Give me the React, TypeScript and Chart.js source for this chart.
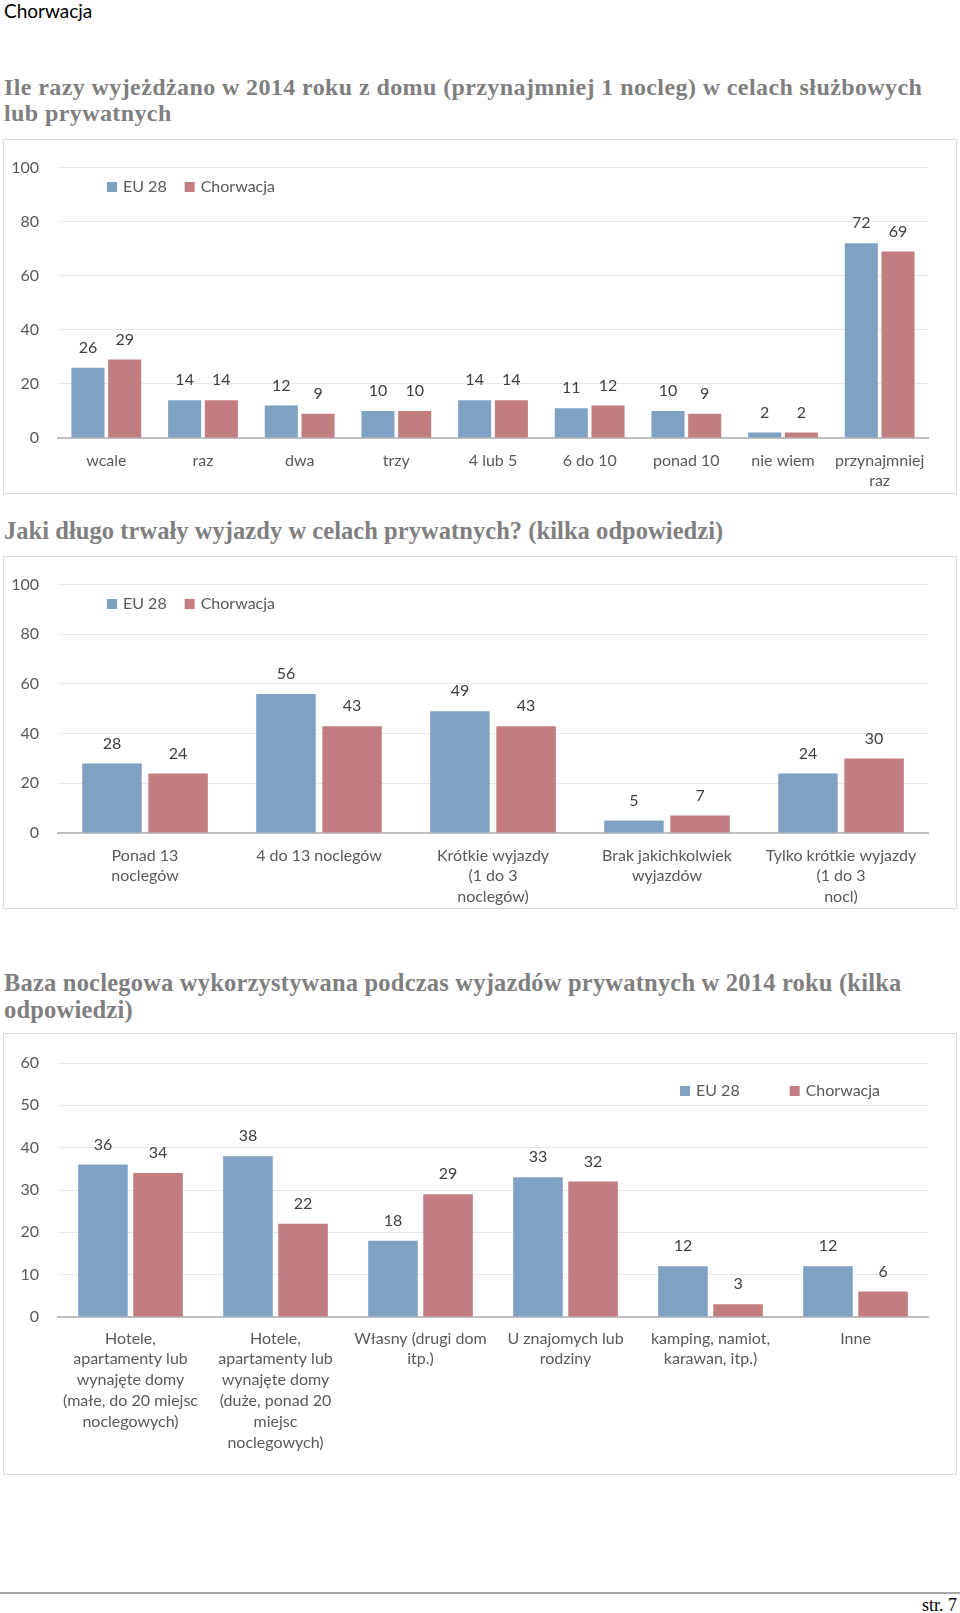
import React, { useEffect, useRef } from 'react';
import { Chart, registerables } from 'chart.js';

Chart.register(...registerables);

// ---------- DATA ----------
const seriesNames = ['EU 28', 'Chorwacja'];

const tripsCategories: (string | string[])[] = [
  'wcale', 'raz', 'dwa', 'trzy', '4 lub 5', '6 do 10', 'ponad 10', 'nie wiem', ['przynajmniej', 'raz'],
];
const tripsEU = [26, 14, 12, 10, 14, 11, 10, 2, 72];
const tripsHR = [29, 14, 9, 10, 14, 12, 9, 2, 69];
const tripsTicks = [0, 20, 40, 60, 80, 100];

const durationCategories: (string | string[])[] = [
  ['Ponad 13', 'noclegów'],
  '4 do 13 noclegów',
  ['Krótkie wyjazdy', '(1 do 3', 'noclegów)'],
  ['Brak jakichkolwiek', 'wyjazdów'],
  ['Tylko krótkie wyjazdy', '(1 do 3', 'nocl)'],
];
const durationEU = [28, 56, 49, 5, 24];
const durationHR = [24, 43, 43, 7, 30];
const durationTicks = [0, 20, 40, 60, 80, 100];

const lodgingCategories: (string | string[])[] = [
  ['Hotele,', 'apartamenty lub', 'wynajęte domy', '(małe, do 20 miejsc', 'noclegowych)'],
  ['Hotele,', 'apartamenty lub', 'wynajęte domy', '(duże, ponad 20', 'miejsc', 'noclegowych)'],
  ['Własny (drugi dom', 'itp.)'],
  ['U znajomych lub', 'rodziny'],
  ['kamping, namiot,', 'karawan, itp.)'],
  'Inne',
];
const lodgingEU = [36, 38, 18, 33, 12, 12];
const lodgingHR = [34, 22, 29, 32, 3, 6];
const lodgingTicks = [0, 10, 20, 30, 40, 50, 60];

const pageHeader = 'Chorwacja';
const title1Lines = [
  'Ile razy wyjeżdżano w 2014 roku z domu (przynajmniej 1 nocleg) w celach służbowych',
  'lub prywatnych',
];
const title2Lines = ['Jaki długo trwały wyjazdy w celach prywatnych? (kilka odpowiedzi)'];
const title3Lines = [
  'Baza noclegowa wykorzystywana podczas wyjazdów prywatnych w 2014 roku (kilka',
  'odpowiedzi)',
];
const pageFooter = 'str. 7';

// ---------- STYLE ----------
const BLUE = '#7FA1C3';
const RED = '#C27D81';
const FONT = 'Lato';

const valueLabels = {
  id: 'valueLabels',
  afterDatasetsDraw(chart: any, _args: any, opts: any) {
    const ctx = chart.ctx;
    ctx.save();
    ctx.font = `${opts.size}px ${FONT}`;
    ctx.fillStyle = opts.color;
    ctx.textAlign = 'center';
    ctx.textBaseline = 'middle';
    chart.data.datasets.forEach((ds: any, i: number) => {
      const meta = chart.getDatasetMeta(i);
      meta.data.forEach((bar: any, j: number) => {
        ctx.fillText(String(ds.data[j]), bar.x, bar.y - opts.offset);
      });
    });
    ctx.restore();
  },
};

const insideLegend = {
  id: 'insideLegend',
  afterDraw(chart: any, _args: any, opts: any) {
    const ctx = chart.ctx;
    ctx.save();
    ctx.font = `${opts.size}px ${FONT}`;
    ctx.textBaseline = 'middle';
    ctx.textAlign = 'left';
    let x = opts.x;
    chart.data.datasets.forEach((ds: any) => {
      ctx.fillStyle = ds.backgroundColor;
      ctx.fillRect(x, opts.y - opts.box / 2, opts.box, opts.box);
      x += opts.box + opts.textGap;
      ctx.fillStyle = opts.color;
      ctx.fillText(ds.label, x, opts.y);
      x += ctx.measureText(ds.label).width + opts.itemGap;
    });
    ctx.restore();
  },
};

type BarProps = {
  labels: (string | string[])[];
  eu: number[];
  hr: number[];
  ticks: number[];
  left: number;
  top: number;
  width: number;
  height: number;
  padTop: number;
  padRight: number;
  yWidth: number;
  xHeight: number;
  xPad: number;
  legendX: number;
  legendY: number;
  legendGap: number;
};

function BarChart(p: BarProps) {
  const ref = useRef<HTMLCanvasElement>(null);
  useEffect(() => {
    if (!ref.current) return;
    const tickMax = p.ticks[p.ticks.length - 1];
    const step = p.ticks[1] - p.ticks[0];
    const chart = new Chart(ref.current, {
      type: 'bar',
      data: {
        labels: p.labels,
        datasets: [
          { label: seriesNames[0], data: p.eu, backgroundColor: BLUE, categoryPercentage: 0.76, barPercentage: 0.9 },
          { label: seriesNames[1], data: p.hr, backgroundColor: RED, categoryPercentage: 0.76, barPercentage: 0.9 },
        ],
      },
      options: {
        responsive: false,
        animation: false,
        layout: { padding: { top: p.padTop, right: p.padRight, left: 0, bottom: 0 } },
        plugins: {
          legend: { display: false },
          tooltip: { enabled: false },
          valueLabels: { size: 16, color: '#404040', offset: 20 },
          insideLegend: { size: 16, color: '#595959', x: p.legendX, y: p.legendY, box: 10, textGap: 6, itemGap: p.legendGap },
        } as any,
        scales: {
          x: {
            grid: { display: false, drawTicks: false },
            border: { display: true, color: '#BFBFBF', width: 2 },
            ticks: { color: '#595959', font: { family: FONT, size: 16, lineHeight: 1.3 }, padding: p.xPad, maxRotation: 0, autoSkip: false },
            afterFit: (s: any) => { s.height = p.xHeight; },
          },
          y: {
            min: 0,
            max: tickMax,
            ticks: { stepSize: step, color: '#595959', font: { family: FONT, size: 16 }, padding: 19 },
            grid: { color: '#E8E8E8', lineWidth: 1, drawTicks: false },
            border: { display: false },
            afterFit: (s: any) => { s.width = p.yWidth; },
          },
        },
      },
      plugins: [valueLabels, insideLegend],
    });
    return () => chart.destroy();
  }, []);
  return (
    <>
      <canvas
        ref={ref}
        width={p.width}
        height={p.height}
        style={{ position: 'absolute', left: p.left, top: p.top, width: p.width, height: p.height }}
      />
      <div
        style={{
          position: 'absolute', left: p.left, top: p.top, width: p.width, height: p.height,
          border: '1px solid #D9D9D9', boxSizing: 'border-box', pointerEvents: 'none',
        }}
      />
    </>
  );
}

const titleStyle = (top: number, size: number, spacing: number): React.CSSProperties => ({
  position: 'absolute', left: 4, top, fontFamily: '"Liberation Serif", serif', fontSize: size,
  fontWeight: 'bold', color: '#7F7F7F', lineHeight: '26px', whiteSpace: 'nowrap', letterSpacing: spacing,
});

export default function App() {
  return (
    <div style={{ position: 'absolute', left: 0, top: 0, width: 960, height: 1613, overflow: 'hidden', background: '#fff' }}>
      <div style={{ position: 'absolute', left: 4, top: 0, fontFamily: FONT, fontSize: 19, lineHeight: '22px', color: '#000' }}>
        {pageHeader}
      </div>

      {title1Lines.map((t, i) => (
        <div key={'t1' + i} style={titleStyle(74 + i * 26, 24, 0.4)}>{t}</div>
      ))}
      <BarChart
        labels={tripsCategories} eu={tripsEU} hr={tripsHR} ticks={tripsTicks}
        left={3} top={139} width={954} height={355}
        padTop={23} padRight={29} yWidth={55} xHeight={56} xPad={12}
        legendX={104} legendY={48} legendGap={18}
      />

      {title2Lines.map((t, i) => (
        <div key={'t2' + i} style={titleStyle(518 + i * 26, 24.5, 0.05)}>{t}</div>
      ))}
      <BarChart
        labels={durationCategories} eu={durationEU} hr={durationHR} ticks={durationTicks}
        left={3} top={556} width={954} height={353}
        padTop={23} padRight={29} yWidth={55} xHeight={76} xPad={12}
        legendX={104} legendY={48} legendGap={18}
      />

      {title3Lines.map((t, i) => (
        <div key={'t3' + i} style={titleStyle(970 + i * 27, 24.5, 0.2)}>{t}</div>
      ))}
      <BarChart
        labels={lodgingCategories} eu={lodgingEU} hr={lodgingHR} ticks={lodgingTicks}
        left={3} top={1033} width={954} height={442}
        padTop={30} padRight={29} yWidth={55} xHeight={158} xPad={11}
        legendX={677} legendY={58} legendGap={50}
      />

      <div style={{ position: 'absolute', left: 0, top: 1592, width: 960, height: 2, background: '#A6A6A6' }} />
      <div style={{ position: 'absolute', right: 3, top: 1595, fontFamily: '"Liberation Serif", serif', fontSize: 18, lineHeight: '20px', color: '#000' }}>
        {pageFooter}
      </div>
    </div>
  );
}
